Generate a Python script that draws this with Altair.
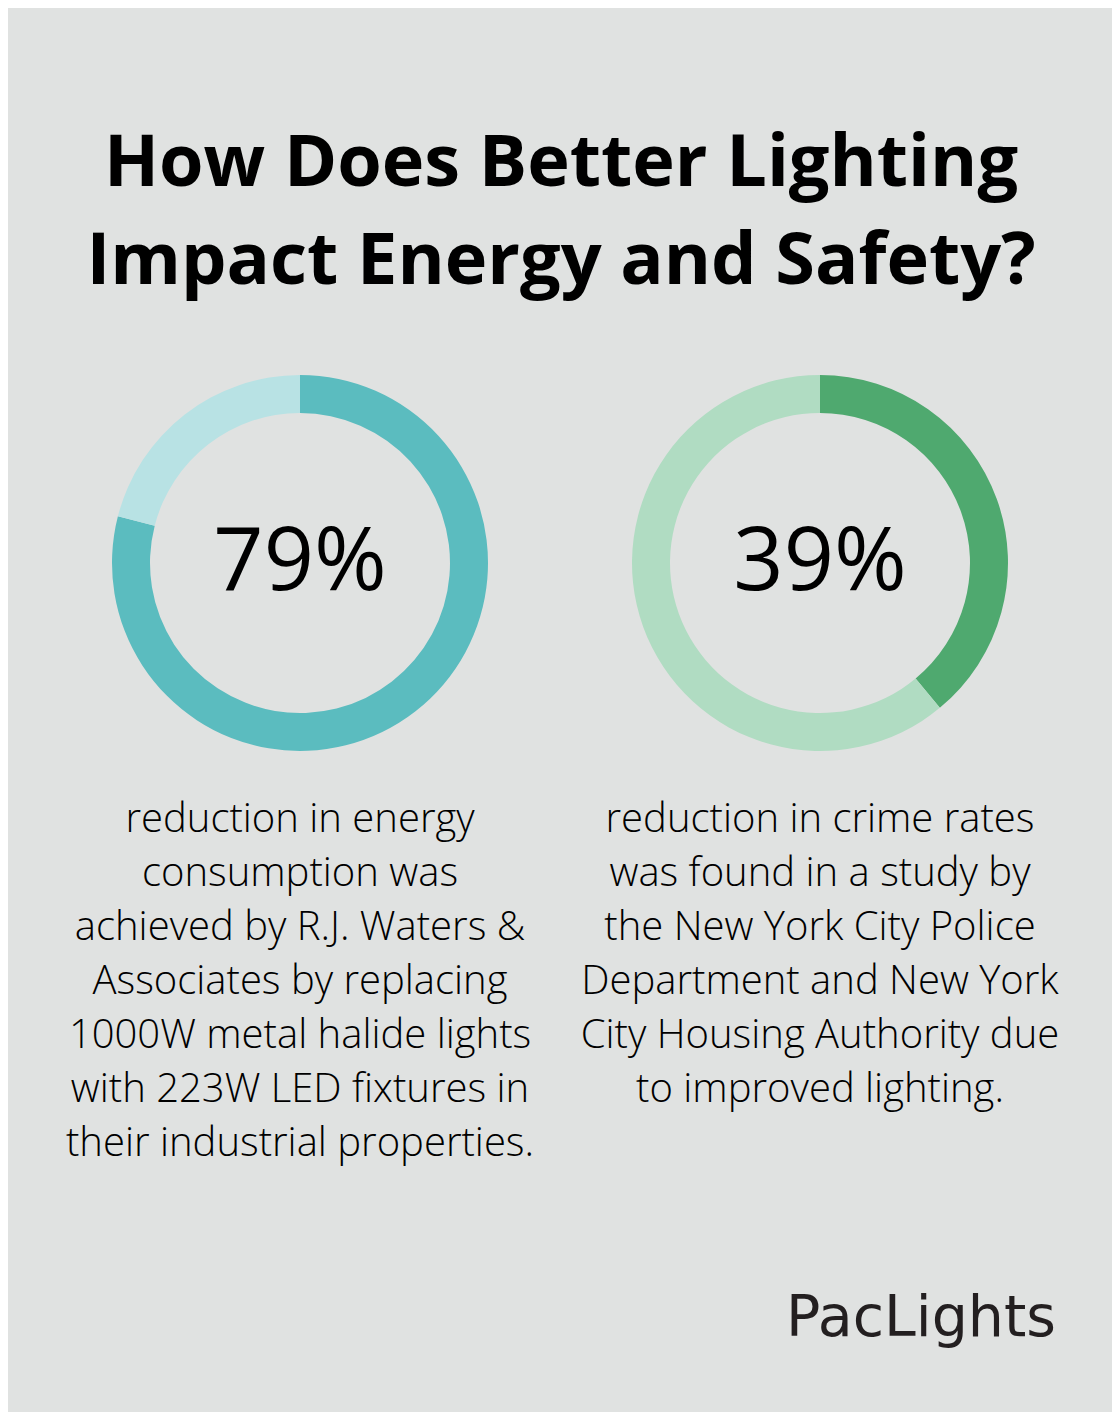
import altair as alt
import pandas as pd

# ---- data ----
title_lines = ["How Does Better Lighting", "Impact Energy and Safety?"]
stat_labels = ["79%", "39%"]
stat_values = [79, 39]
highlight_colors = ["#5bbcbf", "#4fa96f"]
rest_colors = ["#b8e2e4", "#b0dcc2"]
descriptions = [
    ["reduction in energy", "consumption was", "achieved by R.J. Waters &",
     "Associates by replacing", "1000W metal halide lights",
     "with 223W LED fixtures in", "their industrial properties."],
    ["reduction in crime rates", "was found in a study by",
     "the New York City Police", "Department and New York",
     "City Housing Authority due", "to improved lighting."],
]
brand = "PacLights"

BG = "#e0e2e1"
W, H = 1104, 1404
OFF = 8
centers_x = [300 - OFF, 820 - OFF]
center_y = 563 - OFF

layers = []

# title
title_df = pd.DataFrame({"t": ["\n".join(title_lines)]})
layers.append(
    alt.Chart(title_df).mark_text(
        font="Open Sans", fontWeight="bold", fontSize=72, color="#000000",
        align="center", baseline="alphabetic", lineBreak="\n", lineHeight=98,
    ).encode(text="t:N", x=alt.value(561 - OFF), y=alt.value(186 - OFF))
)

for i in range(2):
    donut_df = pd.DataFrame({
        "part": ["value", "rest"],
        "v": [stat_values[i], 100 - stat_values[i]],
        "ord": [0, 1],
        "col": [highlight_colors[i], rest_colors[i]],
    })
    layers.append(
        alt.Chart(donut_df).mark_arc(radius=188, radius2=150).encode(
            theta=alt.Theta("v:Q", stack=True),
            order=alt.Order("ord:Q"),
            color=alt.Color("col:N", scale=None),
            x=alt.value(centers_x[i]),
            y=alt.value(center_y),
        )
    )
    stat_df = pd.DataFrame({"t": [stat_labels[i]]})
    layers.append(
        alt.Chart(stat_df).mark_text(
            font="Open Sans", fontWeight=500, fontSize=88, color="#000000",
            align="center", baseline="alphabetic",
        ).encode(text="t:N", x=alt.value(centers_x[i]), y=alt.value(590 - OFF))
    )
    desc_df = pd.DataFrame({"t": ["\n".join(descriptions[i])]})
    layers.append(
        alt.Chart(desc_df).mark_text(
            font="Open Sans", fontWeight=300, fontSize=40, color="#000000",
            align="center", baseline="alphabetic", lineBreak="\n", lineHeight=54,
        ).encode(text="t:N", x=alt.value(centers_x[i]), y=alt.value(832 - OFF))
    )

brand_df = pd.DataFrame({"t": [brand]})
layers.append(
    alt.Chart(brand_df).mark_text(
        font="DejaVu Sans", fontWeight="normal", fontSize=57, color="#231f20",
        align="right", baseline="alphabetic",
    ).encode(text="t:N", x=alt.value(1056 - OFF), y=alt.value(1336 - OFF))
)

chart = alt.layer(*layers).properties(
    width=W, height=H, padding=0, autosize=alt.AutoSizeParams(type="none"),
    background=BG,
).configure_view(strokeWidth=0)

chart.save("out.html", embed_options={"renderer": "svg", "actions": False})
